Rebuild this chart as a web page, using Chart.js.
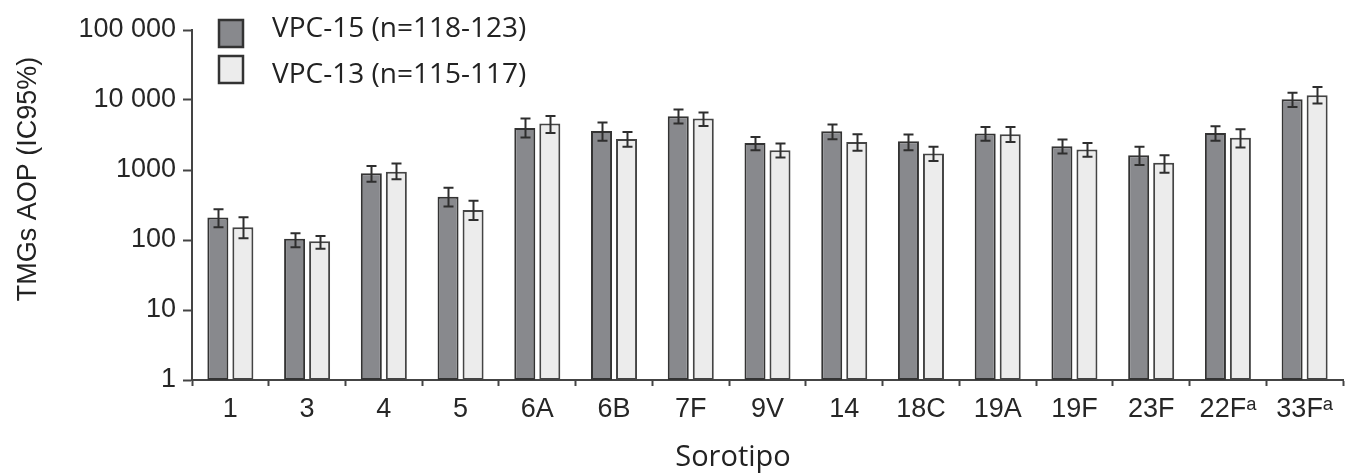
<!DOCTYPE html>
<html>
<head>
<meta charset="utf-8">
<script src="https://cdn.jsdelivr.net/npm/chart.js@4.4.1/dist/chart.umd.min.js"></script>
<style>
  html, body { margin: 0; padding: 0; background: #ffffff; }
  #c { display: block; }
</style>
</head>
<body>
<canvas id="c" width="1345" height="473"></canvas>
<script>
// Serotypes on the category axis
const serotypes = ['1', '3', '4', '5', '6A', '6B', '7F', '9V', '14', '18C', '19A', '19F', '23F', '22F\u1D43', '33F\u1D43'];

// VPC-15: geometric mean titres with 95% CI bounds
const vpc15Gmt  = [210, 104, 900, 415, 3990, 3620, 5860, 2440, 3580, 2580, 3320, 2190, 1630, 3390, 10230];
const vpc15Low  = [152,  79, 680, 300, 2910, 2610, 4610, 1920, 2750, 1920, 2610, 1720, 1175, 2610,  7950];
const vpc15High = [275, 125, 1140, 560, 5430, 4770, 7300, 2970, 4460, 3210, 4120, 2730, 2140, 4220, 12740];

// VPC-13: geometric mean titres with 95% CI bounds
const vpc13Gmt  = [152,  96, 945, 268, 4610, 2780, 5430, 1920, 2520, 1720, 3250, 1965, 1270, 2880, 11670];
const vpc13Low  = [106,  75, 735, 193, 3390, 2140, 4265, 1510, 1880, 1350, 2520, 1540,  912, 2100,  8890];
const vpc13High = [211, 114, 1240, 364, 5920, 3500, 6610, 2390, 3245, 2140, 4120, 2440, 1630, 3830, 15300];

// Labels
const seriesLabels = ['VPC-15 (n=118-123)', 'VPC-13 (n=115-117)'];
const yTickValues = [1, 10, 100, 1000, 10000, 100000];
const xTitleText = 'Sorotipo';
const yTitleText = 'TMGs AOP (IC95%)';

const AXIS_COLOR = '#444444';
const TICK_FONT = "'Liberation Sans', Arial, sans-serif";

function formatTick(v) {
  const s = String(v);
  return v >= 10000 ? s.replace(/\B(?=(\d{3})+(?!\d))/g, ' ') : s;
}

// Confidence-interval whiskers drawn over each bar
const errorBarPlugin = {
  id: 'errorBars',
  afterDatasetsDraw(chart) {
    const ctx = chart.ctx;
    const yScale = chart.scales.y;
    ctx.save();
    ctx.strokeStyle = '#2e2e2e';
    ctx.lineWidth = 2;
    chart.data.datasets.forEach((ds, di) => {
      const meta = chart.getDatasetMeta(di);
      meta.data.forEach((bar, i) => {
        const x = Math.round(bar.x) + 0.5;
        const yLo = yScale.getPixelForValue(ds.ciLow[i]);
        const yHi = yScale.getPixelForValue(ds.ciHigh[i]);
        const half = 5;
        ctx.beginPath();
        ctx.moveTo(x, yLo); ctx.lineTo(x, yHi);
        ctx.moveTo(x - half, yHi); ctx.lineTo(x + half, yHi);
        ctx.moveTo(x - half, yLo); ctx.lineTo(x + half, yLo);
        ctx.stroke();
      });
    });
    ctx.restore();
  }
};

// Legend inside the plot plus the two axis captions
const captionPlugin = {
  id: 'captions',
  afterDraw(chart) {
    const ctx = chart.ctx;
    ctx.save();
    // legend
    const boxTops = [20, 56];
    const textMid = [29, 75];
    chart.data.datasets.forEach((ds, i) => {
      ctx.fillStyle = ds.backgroundColor;
      ctx.strokeStyle = '#333333';
      ctx.lineWidth = 2.5;
      ctx.fillRect(219, boxTops[i], 24, 27);
      ctx.strokeRect(219, boxTops[i], 24, 27);
      ctx.fillStyle = '#222222';
      ctx.font = "28px 'Open Sans', sans-serif";
      ctx.textAlign = 'left';
      ctx.textBaseline = 'middle';
      ctx.fillText(ds.label, 272, textMid[i]);
    });
    // x-axis caption
    ctx.fillStyle = '#222222';
    ctx.font = "29px 'Open Sans', sans-serif";
    ctx.textAlign = 'center';
    ctx.textBaseline = 'middle';
    ctx.fillText(xTitleText, 733, 458);
    // y-axis caption
    ctx.translate(29, 179);
    ctx.rotate(-Math.PI / 2);
    ctx.font = "27px 'Liberation Sans', Arial, sans-serif";
    ctx.fillText(yTitleText, 0, 0);
    ctx.restore();
  }
};

new Chart(document.getElementById('c'), {
  type: 'bar',
  data: {
    labels: serotypes,
    datasets: [
      {
        label: seriesLabels[0],
        data: vpc15Gmt,
        ciLow: vpc15Low,
        ciHigh: vpc15High,
        backgroundColor: '#88898d',
        borderColor: '#333333',
        borderWidth: 2,
        borderSkipped: false,
        categoryPercentage: 0.652,
        barPercentage: 0.84
      },
      {
        label: seriesLabels[1],
        data: vpc13Gmt,
        ciLow: vpc13Low,
        ciHigh: vpc13High,
        backgroundColor: '#ececec',
        borderColor: '#444444',
        borderWidth: 2,
        borderSkipped: false,
        categoryPercentage: 0.652,
        barPercentage: 0.84
      }
    ]
  },
  options: {
    responsive: false,
    animation: false,
    devicePixelRatio: 1,
    layout: { padding: { top: 30, right: 2, bottom: 0, left: 0 } },
    plugins: {
      legend: { display: false },
      tooltip: { enabled: false },
      title: { display: false }
    },
    scales: {
      x: {
        type: 'category',
        offset: true,
        grid: {
          display: true,
          offset: true,
          drawOnChartArea: false,
          drawTicks: true,
          tickLength: 6,
          tickWidth: 2,
          tickColor: AXIS_COLOR
        },
        border: { display: true, color: AXIS_COLOR, width: 2 },
        ticks: {
          color: '#262626',
          font: { family: TICK_FONT, size: 27 },
          padding: 7,
          maxRotation: 0,
          autoSkip: false
        },
        afterFit(scale) { scale.height = 93; }
      },
      y: {
        type: 'logarithmic',
        min: 1,
        max: 100000,
        grid: {
          display: true,
          drawOnChartArea: false,
          drawTicks: true,
          tickLength: 9,
          tickWidth: 2,
          tickColor: AXIS_COLOR
        },
        border: { display: true, color: AXIS_COLOR, width: 2 },
        afterBuildTicks(scale) {
          scale.ticks = yTickValues.map(v => ({ value: v, major: true }));
        },
        ticks: {
          color: '#262626',
          font: { family: TICK_FONT, size: 27 },
          padding: 7,
          autoSkip: false,
          callback: (v) => formatTick(v)
        },
        afterFit(scale) { scale.width = 192; }
      }
    }
  },
  plugins: [errorBarPlugin, captionPlugin]
});
</script>
</body>
</html>
